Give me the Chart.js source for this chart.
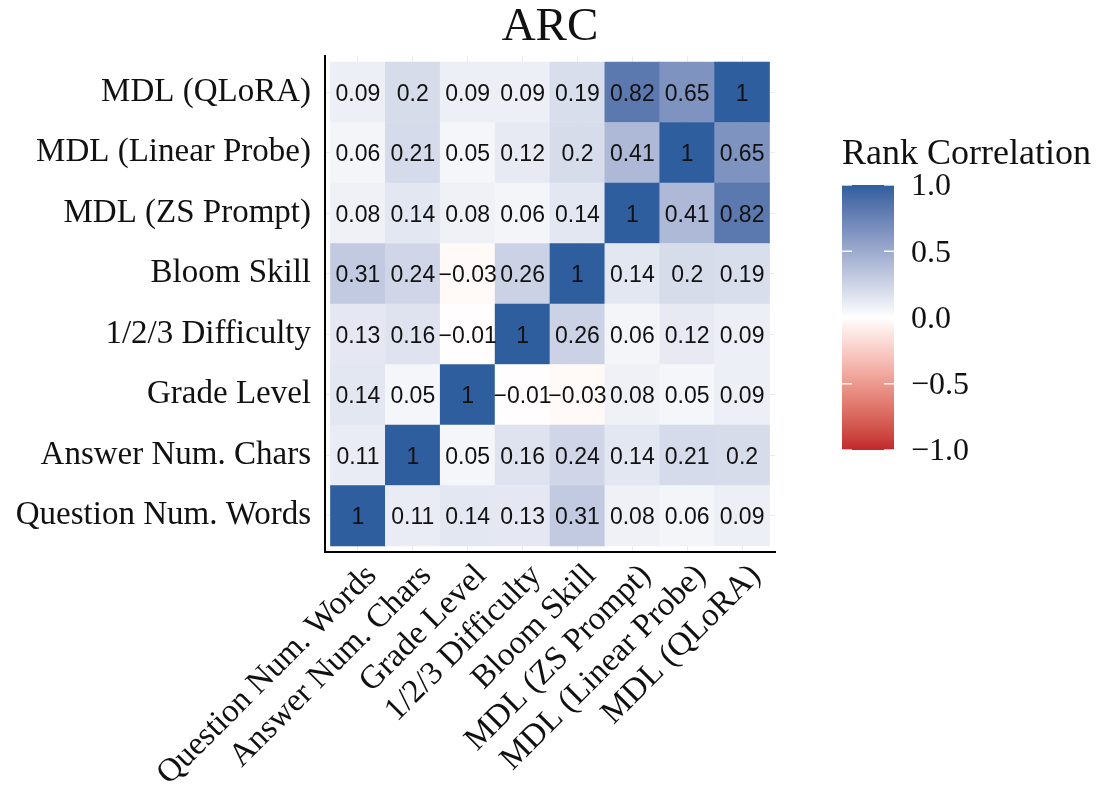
<!DOCTYPE html>
<html>
<head>
<meta charset="utf-8">
<script src="https://cdn.jsdelivr.net/npm/chart.js@4.4.0/dist/chart.umd.min.js"></script>
<style>
  html, body { margin: 0; padding: 0; background: #fff; }
  #wrap { width: 1109px; height: 787px; }
</style>
</head>
<body>
<div id="wrap"><canvas id="heat" width="1109" height="787"></canvas></div>
<script>
// ── Data ───────────────────────────────────────────────────
// variables, bottom row / left column first
const variables = [
  'Question Num. Words', 'Answer Num. Chars', 'Grade Level', '1/2/3 Difficulty',
  'Bloom Skill', 'MDL (ZS Prompt)', 'MDL (Linear Probe)', 'MDL (QLoRA)'
];
const rowQuestionWords = [1, 0.11, 0.14, 0.13, 0.31, 0.08, 0.06, 0.09];
const rowAnswerChars   = [0.11, 1, 0.05, 0.16, 0.24, 0.14, 0.21, 0.2];
const rowGradeLevel    = [0.14, 0.05, 1, -0.01, -0.03, 0.08, 0.05, 0.09];
const rowDifficulty    = [0.13, 0.16, -0.01, 1, 0.26, 0.06, 0.12, 0.09];
const rowBloomSkill    = [0.31, 0.24, -0.03, 0.26, 1, 0.14, 0.2, 0.19];
const rowZsPrompt      = [0.08, 0.14, 0.08, 0.06, 0.14, 1, 0.41, 0.82];
const rowLinearProbe   = [0.06, 0.21, 0.05, 0.12, 0.2, 0.41, 1, 0.65];
const rowQLoRA         = [0.09, 0.2, 0.09, 0.09, 0.19, 0.82, 0.65, 1];
const rows = [rowQuestionWords, rowAnswerChars, rowGradeLevel, rowDifficulty,
              rowBloomSkill, rowZsPrompt, rowLinearProbe, rowQLoRA];
const legendTicks = [1.0, 0.5, 0.0, -0.5, -1.0];

// ── Colours (interpolated in Lab, like gradient2) ──────────
const HIGH = [46, 94, 158];
const MID  = [255, 255, 255];
const LOW  = [193, 39, 45];

function toLinear(c) { c /= 255; return c <= 0.04045 ? c / 12.92 : Math.pow((c + 0.055) / 1.055, 2.4); }
function fromLinear(c) { c = c <= 0.0031308 ? 12.92 * c : 1.055 * Math.pow(c, 1 / 2.4) - 0.055; return Math.round(Math.max(0, Math.min(1, c)) * 255); }
const WP = [0.95047, 1, 1.08883];
function f(t) { return t > 0.008856 ? Math.cbrt(t) : 7.787 * t + 16 / 116; }
function fi(t) { return t > 0.206893 ? t * t * t : (t - 16 / 116) / 7.787; }

function rgbToLab(rgb) {
  const r = toLinear(rgb[0]), g = toLinear(rgb[1]), b = toLinear(rgb[2]);
  const x = (0.4124 * r + 0.3576 * g + 0.1805 * b) / WP[0];
  const y = (0.2126 * r + 0.7152 * g + 0.0722 * b) / WP[1];
  const z = (0.0193 * r + 0.1192 * g + 0.9505 * b) / WP[2];
  return [116 * f(y) - 16, 500 * (f(x) - f(y)), 200 * (f(y) - f(z))];
}
function labToRgb(lab) {
  const fy = (lab[0] + 16) / 116, fx = fy + lab[1] / 500, fz = fy - lab[2] / 200;
  const x = fi(fx) * WP[0], y = fi(fy) * WP[1], z = fi(fz) * WP[2];
  const r =  3.2406 * x - 1.5372 * y - 0.4986 * z;
  const g = -0.9689 * x + 1.8758 * y + 0.0415 * z;
  const b =  0.0557 * x - 0.2040 * y + 1.0570 * z;
  return [fromLinear(r), fromLinear(g), fromLinear(b)];
}
const labHigh = rgbToLab(HIGH), labMid = rgbToLab(MID), labLow = rgbToLab(LOW);

function fillFor(v) {
  const end = v >= 0 ? labHigh : labLow;
  const t = Math.min(1, Math.abs(v));
  const lab = labMid.map(function(m, i) { return m + (end[i] - m) * t; });
  return 'rgb(' + labToRgb(lab).join(',') + ')';
}

function fmt(v) {
  return String(v).replace('-', '\u2212');
}

const SERIF = '"Liberation Serif", "Times New Roman", serif';
const SANS  = '"Liberation Sans", Arial, sans-serif';
const INK   = '#111111';

// ── Plugins ────────────────────────────────────────────────
const cellText = {
  id: 'cellText',
  afterDatasetsDraw: function(chart) {
    const ctx = chart.ctx;
    ctx.save();
    ctx.font = '23px ' + SANS;
    ctx.fillStyle = INK;
    ctx.textAlign = 'center';
    ctx.textBaseline = 'middle';
    chart.data.datasets.forEach(function(ds, di) {
      chart.getDatasetMeta(di).data.forEach(function(bar, ci) {
        const cy = (bar.y + bar.base) / 2;
        ctx.fillText(fmt(rows[di][ci]), bar.x, cy + 2);
      });
    });
    ctx.restore();
  }
};

const extras = {
  id: 'extras',
  afterDraw: function(chart) {
    const ctx = chart.ctx;
    const area = chart.chartArea;
    const xs = chart.scales.x;
    ctx.save();

    // title
    ctx.fillStyle = INK;
    ctx.font = '47px ' + SERIF;
    ctx.textAlign = 'center';
    ctx.textBaseline = 'alphabetic';
    ctx.fillText('ARC', (area.left + area.right) / 2, 40);

    // x labels, rotated 45°, top-right corner on the tick
    ctx.font = '33px ' + SERIF;
    ctx.textAlign = 'right';
    ctx.textBaseline = 'top';
    variables.forEach(function(name, i) {
      ctx.save();
      ctx.translate(xs.getPixelForValue(i + 0.5) + 2, area.bottom + 7);
      ctx.rotate(-Math.PI / 4);
      ctx.fillText(name, 0, 0);
      ctx.restore();
    });

    // colour bar
    const bx = 842, bw = 52, top = 185, bottom = 450;
    const grad = ctx.createLinearGradient(0, top, 0, bottom);
    for (let k = 0; k <= 20; k++) {
      grad.addColorStop(k / 20, fillFor(1 - k / 10));
    }
    ctx.fillStyle = grad;
    ctx.fillRect(bx, top, bw, bottom - top);

    ctx.font = '36px ' + SERIF;
    ctx.fillStyle = INK;
    ctx.textAlign = 'left';
    ctx.textBaseline = 'alphabetic';
    ctx.fillText('Rank Correlation', 842, 164);

    ctx.font = '32px ' + SERIF;
    ctx.textBaseline = 'middle';
    legendTicks.forEach(function(t) {
      const y = top + (1 - t) / 2 * (bottom - top);
      ctx.strokeStyle = 'rgba(255,255,255,0.9)';
      ctx.lineWidth = 1.5;
      ctx.beginPath();
      ctx.moveTo(bx, y); ctx.lineTo(bx + 10, y);
      ctx.moveTo(bx + bw - 10, y); ctx.lineTo(bx + bw, y);
      ctx.stroke();
      ctx.fillText(t.toFixed(1).replace('-', '\u2212'), 911, y + 2);
    });
    ctx.restore();
  }
};

// ── Chart ──────────────────────────────────────────────────
const datasets = rows.map(function(vals, r) {
  return {
    label: variables[r],
    data: vals.map(function(v, c) { return { x: c + 0.5, y: [r, r + 1] }; }),
    backgroundColor: vals.map(fillFor),
    borderWidth: 0,
    barPercentage: 1,
    categoryPercentage: 1,
    grouped: false
  };
});

function centreTicks(scale) {
  scale.ticks = variables.map(function(_, i) { return { value: i + 0.5 }; });
}

new Chart(document.getElementById('heat'), {
  type: 'bar',
  data: { datasets: datasets },
  options: {
    responsive: false,
    animation: false,
    layout: { padding: { top: 56, right: 334, left: 0, bottom: 0 } },
    plugins: { legend: { display: false }, tooltip: { enabled: false }, title: { display: false } },
    scales: {
      x: {
        type: 'linear',
        min: -0.1, max: 8.1,
        offset: false,
        afterBuildTicks: centreTicks,
        afterFit: function(s) { s.height = 235; },
        grid: { color: '#EBEBEB', drawTicks: false, offset: false },
        border: { display: true, color: '#000', width: 2 },
        ticks: { display: false }
      },
      y: {
        type: 'linear',
        min: -0.1, max: 8.1,
        afterBuildTicks: centreTicks,
        afterFit: function(s) { s.width = 325; },
        grid: { color: '#EBEBEB', drawTicks: false },
        border: { display: true, color: '#000', width: 2 },
        ticks: {
          color: INK,
          font: { family: SERIF, size: 33 },
          padding: 14,
          autoSkip: false,
          callback: function(v) { return variables[Math.round(v - 0.5)]; }
        }
      }
    }
  },
  plugins: [cellText, extras]
});
</script>
</body>
</html>
